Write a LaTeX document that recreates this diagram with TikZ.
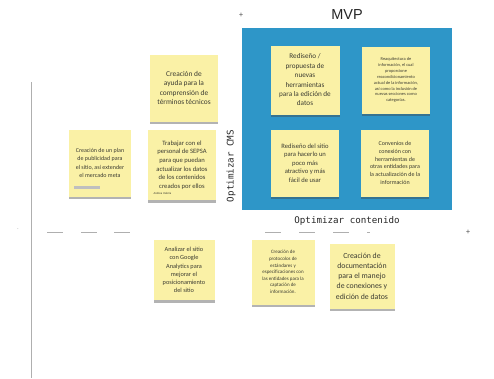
\documentclass[tikz,border=0pt]{standalone}
\usepackage{fontspec}
\setmainfont{Carlito}
\setmonofont{DejaVu Sans Mono}
\newfontfamily\titlefont{Liberation Sans}
\usetikzlibrary{shadows}
\definecolor{mvpblue}{RGB}{46,150,200}
\definecolor{notey}{RGB}{250,241,166}
\definecolor{notetext}{RGB}{60,60,50}
\definecolor{axisgray}{RGB}{175,175,175}
\tikzset{
  note/.style={fill=notey, minimum width=68pt, minimum height=67pt, inner sep=1pt,
    align=center, text=notetext, font=\fontsize{7.4}{9.6}\selectfont,
    drop shadow={shadow xshift=0pt, shadow yshift=-2.5pt, opacity=0.4, fill=black!75}},
  tinynote/.style={note, font=\fontsize{4.4}{5.9}\selectfont},
  axis/.style={axisgray, line width=0.5pt},
  tick/.style={axisgray, line width=0.6pt}
}
\begin{document}
\begin{tikzpicture}[x=1pt,y=-1pt]
\useasboundingbox (0,0) rectangle (494,378);
% quadrants
\draw[axis] (31,82) -- (31,378);
\foreach \a in {47,81,114,265,299,333} \draw[tick] (\a,232) -- ++(16,0);
\draw[tick] (367,232) -- ++(3,0);
\node[font=\fontsize{8}{8}\selectfont, text=black!70] (plusa) at (241,15) {+};
\node[font=\fontsize{8}{8}\selectfont, text=black!70] (plusb) at (468,232) {+};
\node[font=\fontsize{5}{5}\selectfont, text=black!60] (dot) at (18,229) {.};
% MVP box
\fill[mvpblue] (242,28) rectangle (452,210);
\node[font=\titlefont\fontsize{14.5}{14.5}\selectfont, text=black!85] (mvp) at (347,15) {MVP};
\node[font=\ttfamily\fontsize{9.2}{9.2}\selectfont, text=black!85] (ejex) at (347,221) {Optimizar contenido};
\node[font=\ttfamily\fontsize{9.2}{9.2}\selectfont, text=black!85, rotate=90] (ejey) at (231,166) {Optimizar CMS};
% notes
\node[note] (ayuda) at (184,88) {Creación de\\ ayuda para la\\ comprensión de\\ términos técnicos};
\node[note, minimum width=62pt, font=\fontsize{6}{8.2}\selectfont] (plan) at (100,163)
  {\raisebox{8pt}{\parbox{60pt}{\centering Creación de un plan\\ de publicidad para\\ el sitio, así extender\\ el mercado meta}}};
\fill[black!25] (74,186) rectangle (100,188.5);
\node[note, minimum height=70pt, font=\fontsize{6.6}{8.6}\selectfont] (sepsa) at (182,165)
  {\raisebox{4pt}{\parbox{66pt}{\centering Trabajar con el\\ personal de SEPSA\\ para que puedan\\ actualizar los datos\\ de los contenidos\\ creados por ellos}}};
\node[font=\fontsize{3}{3}\selectfont, text=notetext, anchor=west] (firma) at (150,193) {Andrea Valeria};
\node[note, minimum width=69pt, minimum height=69pt, font=\fontsize{7.2}{9.4}\selectfont] (herram) at (305,80)
  {Rediseño /\\ propuesta de\\ nuevas\\ herramientas\\ para la edición de\\ datos};
\node[tinynote] (reaq) at (396,80)
  {Reaquitectura de\\ información, el cual\\ proporcione\\ reacondicionamiento\\ actual de la información,\\ así como la inclusión de\\ nuevas secciones como\\ categorías.};
\node[note, font=\fontsize{6.6}{8.6}\selectfont] (redis) at (305,163)
  {Rediseño del sitio\\ para hacerlo un\\ poco más\\ atractivo y más\\ fácil de usar};
\node[note, font=\fontsize{6}{7.8}\selectfont] (conv) at (395,163)
  {Convenios de\\ conexión con\\ herramientas de\\ otras entidades para\\ la actualización de la\\ información};
\node[note, minimum width=61pt, minimum height=60pt, font=\fontsize{6.3}{8.2}\selectfont] (analiz) at (184,270)
  {Analizar el sitio\\ con Google\\ Analytics para\\ mejorar el\\ posicionamiento\\ del sitio};
\node[note, minimum width=63pt, minimum height=65pt, font=\fontsize{5}{6.6}\selectfont] (protoc) at (283,272)
  {Creación de\\ protocolos de\\ estándares y\\ especificaciones con\\ las entidades para la\\ captación de\\ información.};
\node[note, minimum width=65pt, minimum height=65pt, font=\fontsize{7.8}{10.2}\selectfont] (docum) at (362,276)
  {Creación de\\ documentación\\ para el manejo\\ de conexiones y\\ edición de datos};
\end{tikzpicture}
\end{document}
